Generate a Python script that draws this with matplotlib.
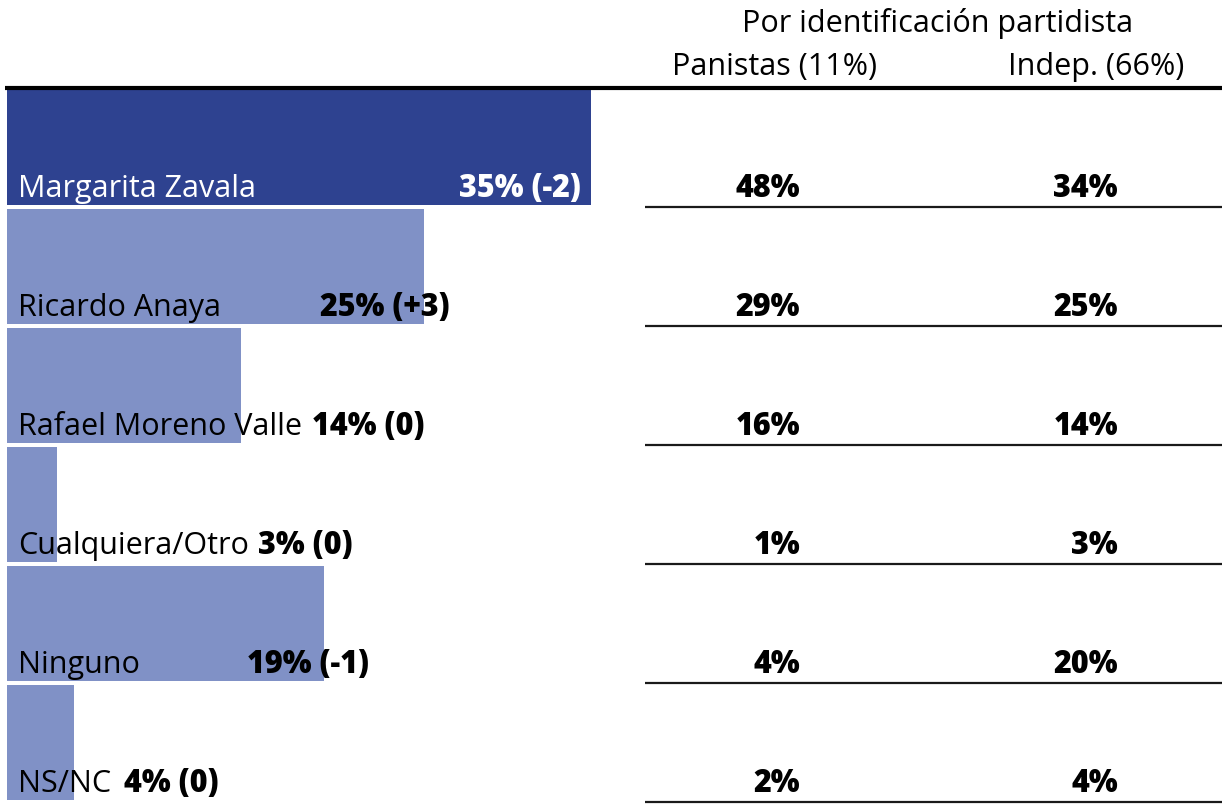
import matplotlib
matplotlib.use("Agg")
import matplotlib.pyplot as plt

# ---- data ----
candidates = ["Margarita Zavala", "Ricardo Anaya", "Rafael Moreno Valle",
              "Cualquiera/Otro", "Ninguno", "NS/NC"]
totals = [35, 25, 14, 3, 19, 4]
changes = ["-2", "+3", "0", "0", "-1", "0"]
panistas = [48, 29, 16, 1, 4, 2]
independientes = [34, 25, 14, 3, 20, 4]
header_title = "Por identificación partidista"
col_headers = ["Panistas (11%)", "Indep. (66%)"]

# ---- layout / style ----
W, H = 1222, 805
DARK = "#2E4290"
LIGHT = "#8091C6"
FONT = "Open Sans"
FS = 22
BOLD = 800
PX_PER_PCT = 16.69
X0 = 7            # pixel where bars start
ROW_TOP = 90      # first bar top (px)
ROW_PITCH = 118.9
BAR_H = 115
value_label_x = [459, 320, 312, 258, 247, 124]   # px, left edge of value labels
col_right_x = [800, 1118]                          # px, right edge of column values

fig = plt.figure(figsize=(W / 100, H / 100), dpi=100)
ax = fig.add_axes([0, 0, 1, 1])
ax.set_xlim(-X0 / PX_PER_PCT, (W - X0) / PX_PER_PCT)
ax.set_ylim(H, 0)
ax.axis("off")

def px2x(px):
    return (px - X0) / PX_PER_PCT

centers = [ROW_TOP + ROW_PITCH * i + BAR_H / 2 for i in range(len(candidates))]
colors = [DARK] + [LIGHT] * (len(candidates) - 1)
ax.barh(centers, totals, height=BAR_H, left=0, color=colors, linewidth=0)

for i, (name, t, c) in enumerate(zip(candidates, totals, changes)):
    yb = centers[i] + BAR_H / 2 - 8
    tc = "white" if i == 0 else "black"
    ax.text(px2x(18), yb, name, fontsize=FS, family=FONT, color=tc,
            va="baseline", ha="left")
    ax.text(px2x(value_label_x[i]), yb, f"{t}% ({c})", fontsize=FS, family=FONT,
            fontweight=BOLD, color=tc, va="baseline", ha="left")
    for xr, vals in zip(col_right_x, (panistas, independientes)):
        ax.text(px2x(xr), yb, f"{vals[i]}%", fontsize=FS, family=FONT,
                fontweight=BOLD, color="black", va="baseline", ha="right")
    yl = centers[i] + BAR_H / 2 + 2
    ax.plot([px2x(645), px2x(W)], [yl, yl], color="#1a1a1a", lw=1.6,
            solid_capstyle="butt")

# top rule
ax.plot([px2x(5), px2x(W)], [88, 88], color="black", lw=3, solid_capstyle="butt")

# headers
ax.text(px2x(938), 32, header_title, fontsize=FS, family=FONT, color="black",
        ha="center", va="baseline")
ax.text(px2x(775), 75, col_headers[0], fontsize=FS, family=FONT, color="black",
        ha="center", va="baseline")
ax.text(px2x(1096), 75, col_headers[1], fontsize=FS, family=FONT, color="black",
        ha="center", va="baseline")

fig.savefig("out.png", dpi=100)
